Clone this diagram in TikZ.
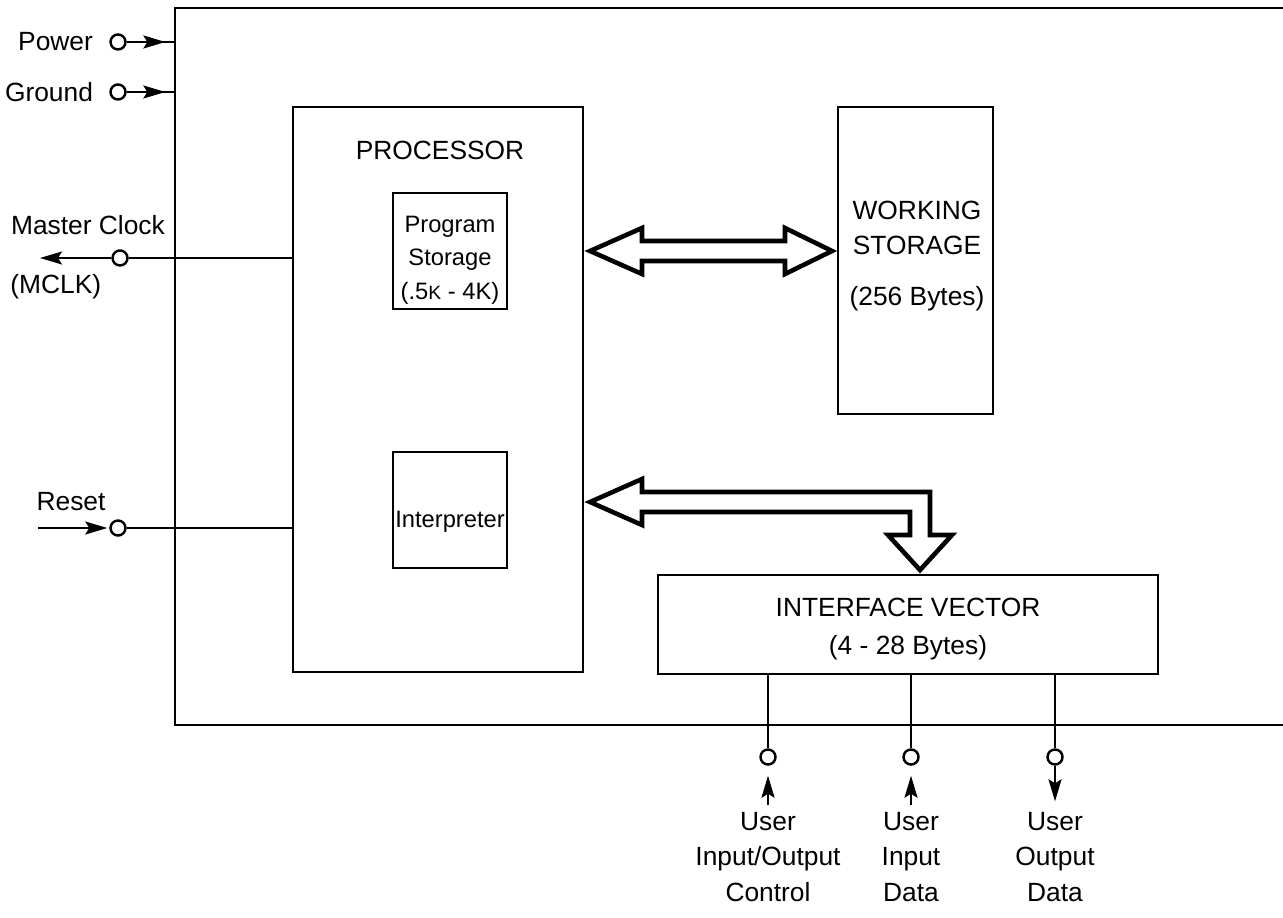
\documentclass[tikz,border=0pt]{standalone}
\usepackage{fontspec}
\setmainfont{Liberation Sans}
\usetikzlibrary{arrows.meta,positioning,calc,decorations.markings}

\tikzset{
  unit/.style={draw, line width=1.3pt, inner sep=0pt},
  pin/.style={circle, draw, line width=1.4pt, fill=white, minimum size=0.3cm, inner sep=0pt},
  lbl/.style={font=\fontsize{15}{20}\selectfont, align=center, inner sep=0pt},
  small lbl/.style={lbl, font=\fontsize{13.5}{19}\selectfont},
  wire/.style={line width=1.3pt},
  tip/.style={-{Stealth[length=0.44cm, width=0.26cm, inset=0.08cm]}},
  sig/.style={wire, tip},
  midtip/.style={decoration={markings, mark=at position #1 with {\arrow{Stealth[length=0.44cm, width=0.26cm, inset=0.08cm]}}}, postaction={decorate}},
  bus/.style={line width=2.6pt, fill=white, line join=miter},
}

\begin{document}
\begin{tikzpicture}[x=0.02cm, y=-0.02cm]
  \useasboundingbox (0,0) rectangle (1283,918);

  % chip outline (open at the right)
  \draw[line width=1.5pt] (1283,8) -- (175,8) -- (175,725) -- (1283,725);

  % blocks
  \node[unit, minimum width=5.8cm, minimum height=11.3cm] (proc) at (438,389.5) {};
  \node[lbl] (proct) at (440,150) {PROCESSOR};
  \node[unit, minimum width=2.28cm, minimum height=2.32cm] (prog) at (450,251) {};
  \node[small lbl] at (450,260) {Program\\Storage\\(.5{\fontsize{11}{12}\selectfont K} - 4K)};
  \node[unit, minimum width=2.28cm, minimum height=2.32cm] (interp) at (450,510) {};
  \node[small lbl] at (450,522) {Interpreter};
  \node[unit, minimum width=3.1cm, minimum height=6.14cm] (work) at (915.5,260.5) {};
  \node[lbl] at (917,256) {WORKING\\STORAGE\\[0.3cm](256 Bytes)};
  \node[unit, minimum width=10cm, minimum height=1.98cm] (iv) at (908,624.5) {};
  \node[lbl] at (908,629) {INTERFACE VECTOR\\[0.06cm](4 - 28 Bytes)};

  % buses
  \draw[bus] (590,251) -- (642,228) -- (642,241) -- (785,241) -- (785,228) -- (832,251)
    -- (785,274) -- (785,261) -- (642,261) -- (642,274) -- cycle;
  \draw[bus] (590,502) -- (642,479) -- (642,492) -- (930,492) -- (930,535) -- (952,535)
    -- (920,570) -- (888,535) -- (910,535) -- (910,512) -- (642,512) -- (642,525) -- cycle;

  % left pins
  \node[pin] (pwr) at (118,42) {};
  \node[pin] (gnd) at (118,92) {};
  \node[pin] (mclk) at (120,258) {};
  \node[pin] (rst) at (118,528) {};
  \node[lbl, left=0.32cm of pwr] {Power};
  \node[lbl, left=0.32cm of gnd] {Ground};
  \node[lbl] at (88,225) {Master Clock};
  \node[lbl, anchor=west] at (10,287) {(MCLK)};
  \node[lbl] at (71,502) {Reset};

  \coordinate (pwrin) at (175,42);
  \coordinate (gndin) at (175,92);
  \coordinate (mclkout) at (40,258);
  \coordinate (rstin) at (38,528);

  \draw[wire, midtip=0.8] (pwr) -- (pwrin);
  \draw[wire, midtip=0.8] (gnd) -- (gndin);
  \draw[sig] (mclk) -- (mclkout);
  \draw[wire] (mclk) -- (proc.west |- mclk);
  \draw[sig, shorten >=0.04cm] (rstin) -- (rst);
  \draw[wire] (rst) -- (proc.west |- rst);

  % user pins
  \node[pin] (uioc) at (768,757) {};
  \node[pin] (uid) at (911,757) {};
  \node[pin] (uod) at (1055,757) {};
  \node[lbl] (uiocl) at (768,857) {User\\Input/Output\\Control};
  \node[lbl] (uidl) at (911,857) {User\\Input\\Data};
  \node[lbl] (uodl) at (1055,857) {User\\Output\\Data};

  \foreach \p in {uioc, uid, uod}
    \draw[wire] (iv.south -| \p) -- (\p);
  \draw[sig, shorten <=0.14cm, shorten >=0.2cm] (uiocl) -- (uioc);
  \draw[sig, shorten <=0.14cm, shorten >=0.2cm] (uidl) -- (uid);
  \draw[sig, shorten >=0.22cm] (uod) -- (uodl);
\end{tikzpicture}
\end{document}
